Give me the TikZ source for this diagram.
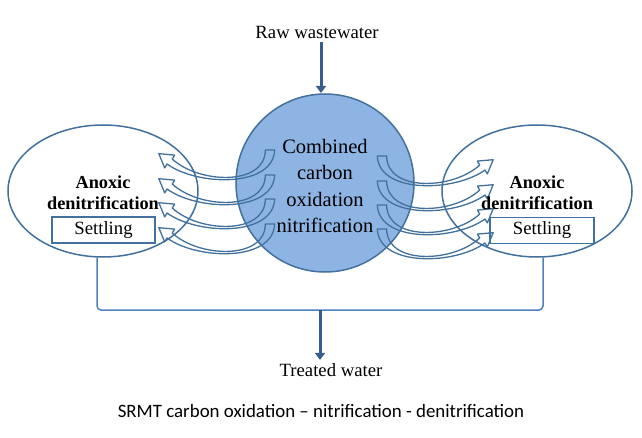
\documentclass[tikz,border=0pt]{standalone}
\usepackage{fontspec}
\setmainfont{Liberation Serif}
\newfontfamily\capfont{Carlito}
\usetikzlibrary{arrows.meta,shapes.geometric,calc}
\definecolor{edge}{HTML}{41719C}
\definecolor{fillc}{HTML}{8EB4E3}
\definecolor{coll}{HTML}{4F81BD}
\definecolor{darkarr}{HTML}{385D8A}
\begin{document}
\begin{tikzpicture}[x=1pt,y=-1pt,
  harrow/.pic={\draw[edge,line width=1.3pt,line join=round]
    (-4.5,0) -- (4.5,0) .. controls (3,38) and (-70,36) .. (-99,14)
    -- (-101.3,17.9) -- (-106.9,3.7) -- (-91.7,5.1) -- (-94,9)
    .. controls (-68,34) and (-4.5,36) .. (-4.5,0) -- cycle;},
  txt/.style={font=\fontsize{18.7}{22}\selectfont},
  boxst/.style={draw=edge, fill=white, line width=1.5pt, minimum height=26pt, inner sep=0pt, font=\fontsize{18.7}{22}\selectfont},
  ell/.style={ellipse, draw=edge, fill=white, line width=1.5pt, minimum width=190pt, minimum height=132pt, inner sep=0pt},
  bold/.style={align=center, font=\bfseries\fontsize{18.3}{21}\selectfont},
  thickarr/.style={darkarr, line width=3pt, -{Triangle[width=10pt,length=7pt]}}
]
\useasboundingbox[fill=white] (0,0) rectangle (642,438);

\node[txt] (raw) at (317,32) {Raw wastewater};
\coordinate (in) at (321,93);
\draw[thickarr] (raw.south -| in) -- (in);

\node[ell] (L) at (103,191) {};
\node[ell] (R) at (537,191) {};
\node[circle, draw=edge, fill=fillc, line width=1.5pt, minimum size=178pt, inner sep=0pt] (C) at (325,183) {};

\node[boxst, minimum width=103pt] (Ls) at (103.5,230) {Settling};
\node[boxst, minimum width=104pt] (Rs) at (542,230.5) {Settling};

\pic[xscale=1.04] (la1) at (270,150) {harrow};
\pic[xscale=1.04] (la2) at (270,175) {harrow};
\pic[xscale=1.04] (la3) at (270,199) {harrow};
\pic[xscale=1.04] (la4) at (270,224) {harrow};
\pic[xscale=-1.04] (ra1) at (382,156) {harrow};
\pic[xscale=-1.04] (ra2) at (382,181) {harrow};
\pic[xscale=-1.04] (ra3) at (382,205) {harrow};
\pic[xscale=-1.04] (ra4) at (382,229) {harrow};

\node[align=center, font=\fontsize{20.5}{26.5}\selectfont] (Ct) at (325,186) {Combined\\carbon\\oxidation\\nitrification};
\node[bold] (Lt) at (103,193) {Anoxic\\denitrification};
\node[bold] (Rt) at (537,193) {Anoxic\\denitrification};

\coordinate (J) at (320,310);
\draw[coll, line width=1.5pt, rounded corners=4pt] ($(L.south)+(-6,0)$) |- (J) -| ($(R.south)+(6,0)$);
\node[txt] (T) at (331,370) {Treated water};
\draw[thickarr] (J) -- (J |- T.north);

\node[font=\capfont\fontsize{18.9}{22}\selectfont] (cap) at (321,411) {SRMT carbon oxidation – nitrification - denitrification};
\end{tikzpicture}
\end{document}
